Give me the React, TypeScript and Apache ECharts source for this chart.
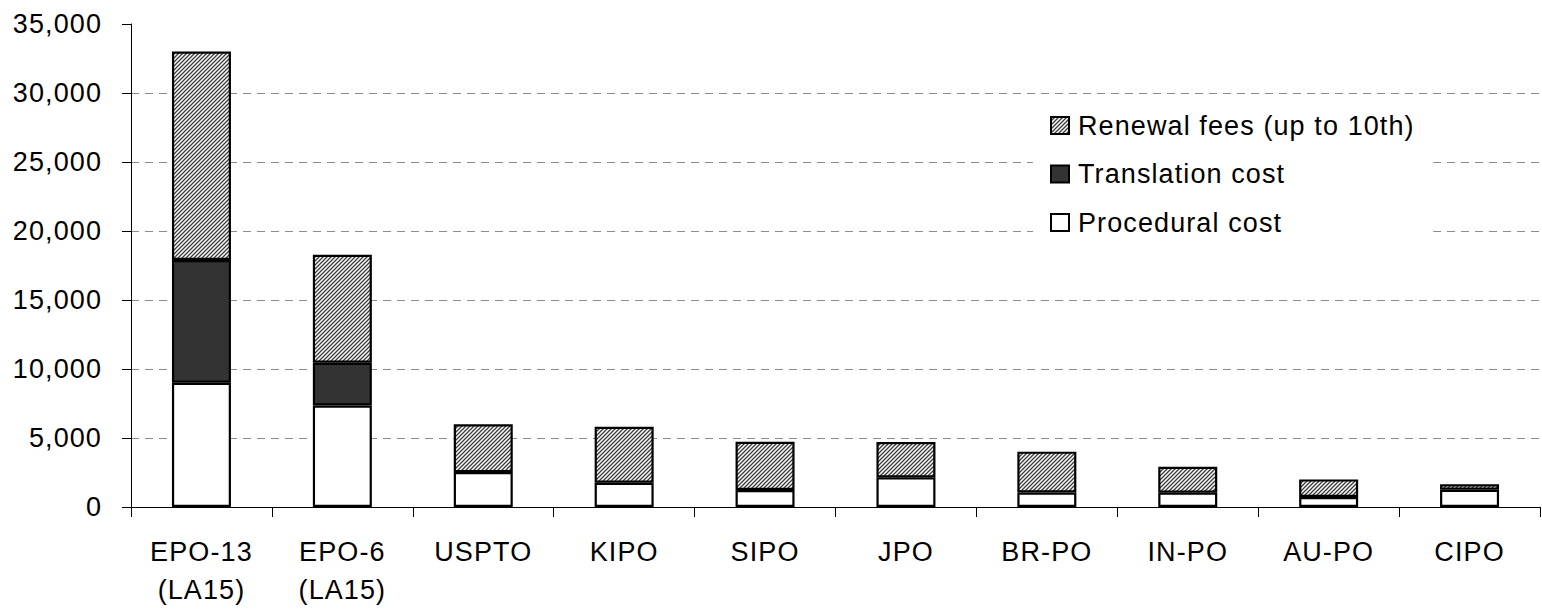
import React, { useEffect, useRef } from "react";
import * as echarts from "echarts";

const categories = ["EPO-13\n(LA15)", "EPO-6\n(LA15)", "USPTO", "KIPO", "SIPO", "JPO", "BR-PO", "IN-PO", "AU-PO", "CIPO"];
const procedural = [9000, 7350, 2530, 1760, 1230, 2150, 1050, 1040, 730, 1250];
const translation = [8900, 3100, null, null, null, null, null, null, null, null];
const renewal = [15100, 7830, 3470, 4060, 3500, 2560, 2960, 1880, 1270, 390];
const seriesNames = ["Procedural cost", "Translation cost", "Renewal fees (up to 10th)"];
const legendOrder = ["Renewal fees (up to 10th)", "Translation cost", "Procedural cost"];

const FONT = "'Liberation Sans', Arial, sans-serif";

function makeHatch(): HTMLCanvasElement {
  const c = document.createElement("canvas");
  const s = 4;
  c.width = s;
  c.height = s;
  const ctx = c.getContext("2d")!;
  ctx.fillStyle = "#ffffff";
  ctx.fillRect(0, 0, s, s);
  ctx.strokeStyle = "#3a3a3a";
  ctx.lineWidth = 1.3;
  ctx.beginPath();
  ctx.moveTo(-1, s + 1);
  ctx.lineTo(s + 1, -1);
  ctx.moveTo(-1, 1);
  ctx.lineTo(1, -1);
  ctx.moveTo(s - 1, s + 1);
  ctx.lineTo(s + 1, s - 1);
  ctx.stroke();
  return c;
}

export default function App() {
  const ref = useRef<HTMLDivElement>(null);
  useEffect(() => {
    if (!ref.current) return;
    const chart = echarts.init(ref.current, undefined, { renderer: "svg" });
    const hatch = makeHatch();
    const pattern: any = { image: hatch, repeat: "repeat", imageWidth: 4, imageHeight: 4 };
    const fills = ["#ffffff", "#333333", pattern];
    const dataArr = [procedural, translation, renewal];
    chart.setOption({
      animation: false,
      backgroundColor: "#ffffff",
      textStyle: { fontFamily: FONT },
      grid: { left: 131, right: 2, top: 24, bottom: 102, containLabel: false },
      legend: {
        orient: "vertical",
        left: 1033,
        top: 104,
        backgroundColor: "#ffffff",
        padding: [8, 46, 8, 17],
        itemGap: 21.5,
        itemWidth: 18,
        itemHeight: 17,
        icon: "rect",
        data: legendOrder,
        textStyle: { fontFamily: FONT, fontSize: 27, color: "#000", padding: [0, 0, 0, 4] },
      },
      xAxis: {
        type: "category",
        data: categories,
        axisLine: { lineStyle: { color: "#000", width: 1 } },
        axisTick: { show: true, length: 10, lineStyle: { color: "#000" } },
        axisLabel: {
          fontFamily: FONT,
          fontSize: 27,
          color: "#000",
          lineHeight: 38,
          margin: 26,
          interval: 0,
        },
      },
      yAxis: {
        type: "value",
        min: 0,
        max: 35000,
        interval: 5000,
        axisLine: { show: true, lineStyle: { color: "#000", width: 1 } },
        axisTick: { show: true, length: 9, lineStyle: { color: "#000" } },
        axisLabel: {
          fontFamily: FONT,
          fontSize: 27,
          color: "#000",
          margin: 29,
          formatter: (v: number) => v.toLocaleString("en-US"),
        },
        splitLine: {
          show: true,
          showMinLine: false,
          showMaxLine: false,
          lineStyle: { color: "#8c8c8c", type: [8, 6], width: 1 },
        },
      },
      series: seriesNames.map((name, i) => ({
        name,
        type: "bar",
        stack: "total",
        barWidth: 59,
        data: dataArr[i],
        itemStyle: { color: fills[i], borderColor: "#000", borderWidth: 2.2 },
        z: 3 + i,
      })),
    });
    return () => chart.dispose();
  }, []);
  return (
    <>
      <style>{"#chartbox svg text { letter-spacing: 1.1px; }"}</style>
      <div id="chartbox" ref={ref} style={{ position: "absolute", left: 0, top: 0, width: 1542, height: 609 }} />
    </>
  );
}
